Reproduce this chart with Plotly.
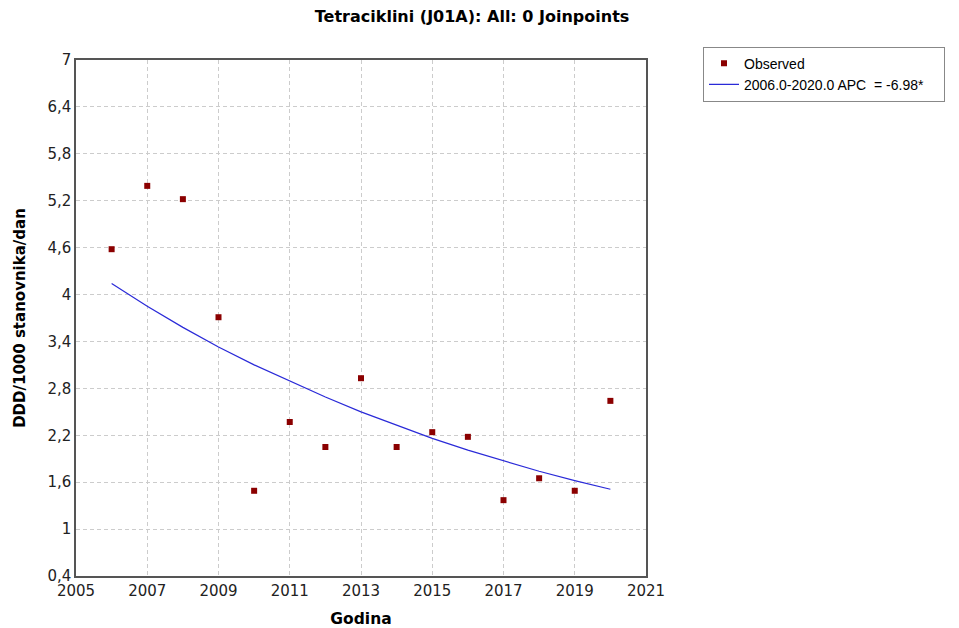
import plotly.graph_objects as go

years = [2006, 2007, 2008, 2009, 2010, 2011, 2012, 2013, 2014, 2015, 2016, 2017, 2018, 2019, 2020]
observed = [4.58, 5.39, 5.22, 3.71, 1.49, 2.37, 2.05, 2.93, 2.05, 2.24, 2.18, 1.37, 1.65, 1.49, 2.64]
fitted = [4.14, 3.85, 3.58, 3.33, 3.10, 2.89, 2.69, 2.50, 2.33, 2.16, 2.01, 1.87, 1.74, 1.62, 1.51]

y_ticks = [0.4, 1, 1.6, 2.2, 2.8, 3.4, 4, 4.6, 5.2, 5.8, 6.4, 7]
y_tick_text = ["0,4", "1", "1,6", "2,2", "2,8", "3,4", "4", "4,6", "5,2", "5,8", "6,4", "7"]
x_ticks = [2005, 2007, 2009, 2011, 2013, 2015, 2017, 2019, 2021]

pad = "\u00a0" * 4

fig = go.Figure()
fig.add_trace(go.Scatter(
    x=years, y=observed, mode="markers", name="Observed",
    marker=dict(symbol="square", size=6, color="#8B0000"),
))
fig.add_trace(go.Scatter(
    x=years, y=fitted, mode="lines", name="2006.0-2020.0 APC  = -6.98*" + pad,
    line=dict(color="#2A2AD8", width=1.2),
))

# page body adds ~8px offset; figure sized to compensate
fig.update_layout(
    width=951, height=620,
    margin=dict(l=68, r=313, t=52, b=52),
    paper_bgcolor="white", plot_bgcolor="white",
    title=dict(text="<b>Tetraciklini (J01A): All: 0 Joinpoints</b>",
               x=0.488, xanchor="center", y=0.987, yanchor="middle",
               font=dict(family="DejaVu Sans", size=16, color="black")),
    legend=dict(x=1.1, y=1.026, xanchor="left", yanchor="top",
                bordercolor="#888888", borderwidth=1, bgcolor="white",
                font=dict(family="Liberation Sans", size=14, color="black"),
                tracegroupgap=0, itemwidth=30),
    xaxis=dict(range=[2005, 2021], tickvals=x_ticks, ticks="", automargin=False,
               showgrid=True, gridcolor="#CCCCCC", griddash="4px,3px", gridwidth=1,
               showline=True, linecolor="#555555", linewidth=1.5, mirror=True,
               zeroline=False,
               tickfont=dict(family="DejaVu Sans", size=15, color="#222222"),
               title=dict(text="<b>Godina</b>", standoff=14,
                          font=dict(family="DejaVu Sans", size=15.5, color="black"))),
    yaxis=dict(range=[0.4, 7], tickvals=y_ticks, ticktext=y_tick_text, ticks="", automargin=False,
               showgrid=True, gridcolor="#CCCCCC", griddash="4px,3px", gridwidth=1,
               showline=True, linecolor="#555555", linewidth=1.5, mirror=True,
               zeroline=False,
               tickfont=dict(family="DejaVu Sans", size=15, color="#222222"),
               title=dict(text="<b>DDD/1000 stanovnika/dan</b>", standoff=18,
                          font=dict(family="DejaVu Sans", size=15, color="black"))),
)

fig.write_html("out.html")
